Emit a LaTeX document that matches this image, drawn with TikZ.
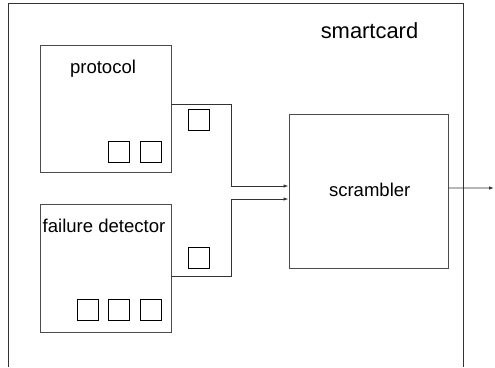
\documentclass[tikz,border=0pt]{standalone}
\usepackage{fontspec}
\setmainfont{Liberation Sans}
\usetikzlibrary{arrows.meta}
\begin{document}
\begin{tikzpicture}[x=1bp,y=-1bp,
  box/.style={draw=black!70,line width=0.9bp,rectangle,inner sep=0pt},
  slot/.style={draw=black,line width=0.8bp,rectangle,inner sep=0pt,minimum width=21bp,minimum height=21bp},
  lbl/.style={inner sep=0pt,anchor=base,font=\fontsize{18.6}{22}\selectfont},
  wire/.style={draw=black!80,line width=0.9bp,-{Latex[length=5bp,width=3.5bp]}}]
\useasboundingbox (0,0) rectangle (495,367);

% smartcard enclosure, open at the bottom
\draw[draw=black!80,line width=0.9bp] (8,367) -- (8,3) -- (463,3) -- (463,367);
\node[lbl,font=\fontsize{22}{26}\selectfont] (smartcard) at (369.5,38.3) {smartcard};

% protocol block
\node[box,minimum width=131bp,minimum height=127bp] (protocol) at (105.5,108.5) {};
\node[lbl] (protocolLabel) at (103,73) {protocol};
\node[slot] (p1) at (118.5,151.5) {};
\node[slot] (p2) at (150.5,151.5) {};

% failure detector block
\node[box,minimum width=131bp,minimum height=128bp] (failure) at (105.5,268) {};
\node[lbl] (failureLabel) at (104,232) {failure detector};
\node[slot] (f1) at (87.5,310) {};
\node[slot] (f2) at (119,310) {};
\node[slot] (f3) at (150.5,310) {};

% scrambler block
\node[box,minimum width=159bp,minimum height=154bp] (scrambler) at (368.5,191) {};
\node[lbl] (scramblerLabel) at (369.7,196) {scrambler};

% messages in transit
\node[slot] (m1) at (198.5,119.5) {};
\node[slot] (m2) at (198.5,257.5) {};

% connectors
\coordinate (out) at (494,188);
\draw[wire] ([yshift=4.5bp]protocol.east) -- ++(60,0) |- ([yshift=5bp]scrambler.west);
\draw[wire] ([yshift=-8bp]failure.east) -- ++(60,0) |- ([yshift=-8bp]scrambler.west);
\draw[wire] ([yshift=3bp]scrambler.east) -- (out);
\end{tikzpicture}
\end{document}
